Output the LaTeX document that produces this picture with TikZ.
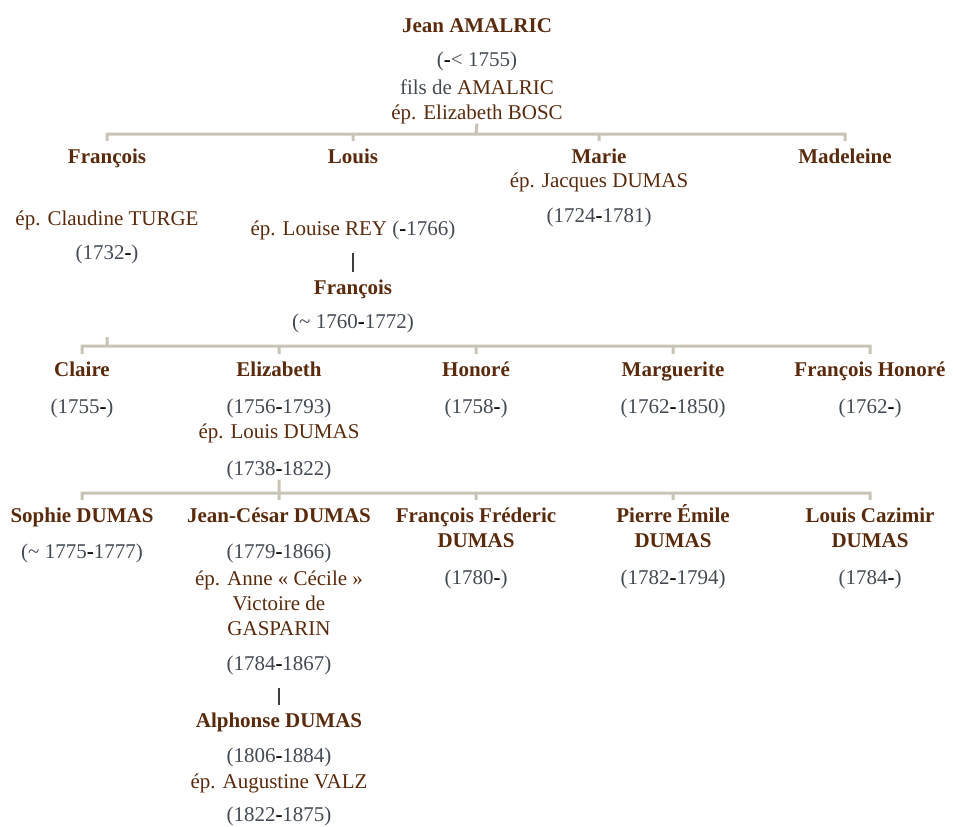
\documentclass[tikz,border=0pt]{standalone}
\usepackage{fontspec}
\setmainfont{Liberation Serif}
\usepackage{xcolor}
\usepackage{tikz}
\usetikzlibrary{positioning}

\definecolor{nombrun}{HTML}{5A2A0C}
\definecolor{dategris}{HTML}{434A54}
\definecolor{traitbeige}{HTML}{C8C3B4}
\definecolor{traitnoir}{HTML}{3C3C3C}
\newcommand{\tiret}{{\color{black}\bfseries -}}

\begin{document}
\begin{tikzpicture}[x=1pt, y=-1pt, font=\fontsize{21}{25}\selectfont,
	NameStyle/.style = {anchor=base, font=\fontsize{21}{25}\selectfont\bfseries, text=nombrun, text height=14pt, text depth=4pt, inner sep=8pt},
	DateStyle/.style = {anchor=base, text=dategris, inner sep=0pt},
	SpouseStyle/.style = {anchor=base, text=nombrun, inner sep=0pt},
	BarStyle/.style = {draw=traitbeige, line width=3pt},
	LinkStyle/.style = {draw=traitnoir, line width=2.5pt, shorten <=13pt}]
	\useasboundingbox (0,0) rectangle (953,827);

	\node[NameStyle] (jean) at (477,32) {Jean AMALRIC};
	\node[DateStyle] (jeand) at (477,66) {(\tiret< 1755)};
	\node[DateStyle] (jeanfils) at (477,94) {fils de \textcolor{nombrun}{AMALRIC}};
	\node[SpouseStyle] (jeansp) at (477,119) {ép. Elizabeth BOSC};

	\node[NameStyle] (fr1) at (107,163) {François};
	\node[SpouseStyle] (fr1sp) at (107,225) {ép. Claudine TURGE};
	\node[DateStyle] (fr1d) at (107,259) {(1732\tiret)};

	\node[NameStyle] (lo1) at (353,163) {Louis};
	\node[SpouseStyle] (lo1sp) at (353,235) {ép. Louise REY \textcolor{dategris}{(\tiret1766)}};
	\node[NameStyle] (lo1fils) at (353,294) {François};
	\node[DateStyle] (lo1filsd) at (353,328) {(\textasciitilde\ 1760\tiret1772)};

	\node[NameStyle] (ma1) at (599,163) {Marie};
	\node[SpouseStyle] (ma1sp) at (599,187) {ép. Jacques DUMAS};
	\node[DateStyle] (ma1d) at (599,222) {(1724\tiret1781)};

	\node[NameStyle] (md1) at (845,163) {Madeleine};

	\node[NameStyle] (cl2) at (82,376) {Claire};
	\node[DateStyle] (cl2d) at (82,413) {(1755\tiret)};

	\node[NameStyle] (el2) at (279,376) {Elizabeth};
	\node[DateStyle] (el2d) at (279,413) {(1756\tiret1793)};
	\node[SpouseStyle] (el2sp) at (279,438) {ép. Louis DUMAS};
	\node[DateStyle] (el2spd) at (279,475) {(1738\tiret1822)};

	\node[NameStyle] (ho2) at (476,376) {Honoré};
	\node[DateStyle] (ho2d) at (476,413) {(1758\tiret)};

	\node[NameStyle] (mg2) at (673,376) {Marguerite};
	\node[DateStyle] (mg2d) at (673,413) {(1762\tiret1850)};

	\node[NameStyle] (fh2) at (870,376) {François Honoré};
	\node[DateStyle] (fh2d) at (870,413) {(1762\tiret)};

	\node[NameStyle] (so3) at (82,522) {Sophie DUMAS};
	\node[DateStyle] (so3d) at (82,558) {(\textasciitilde\ 1775\tiret1777)};

	\node[NameStyle] (jc3) at (279,522) {Jean-César DUMAS};
	\node[DateStyle] (jc3d) at (279,558) {(1779\tiret1866)};
	\node[SpouseStyle] (jc3sp) at (279,585) {ép. Anne « Cécile »};
	\node[SpouseStyle] (jc3spb) at (279,610) {Victoire de};
	\node[SpouseStyle] (jc3spc) at (279,635) {GASPARIN};
	\node[DateStyle] (jc3spd) at (279,670) {(1784\tiret1867)};
	\node[NameStyle] (alph) at (279,727) {Alphonse DUMAS};
	\node[DateStyle] (alphd) at (279,762) {(1806\tiret1884)};
	\node[SpouseStyle] (alphsp) at (279,788) {ép. Augustine VALZ};
	\node[DateStyle] (alphspd) at (279,821) {(1822\tiret1875)};

	\node[NameStyle] (ff3) at (476,522) {François Fréderic};
	\node[NameStyle] (ff3b) at (476,547) {DUMAS};
	\node[DateStyle] (ff3d) at (476,584) {(1780\tiret)};

	\node[NameStyle] (pe3) at (673,522) {Pierre Émile};
	\node[NameStyle] (pe3b) at (673,547) {DUMAS};
	\node[DateStyle] (pe3d) at (673,584) {(1782\tiret1794)};

	\node[NameStyle] (lc3) at (870,522) {Louis Cazimir};
	\node[NameStyle] (lc3b) at (870,547) {DUMAS};
	\node[DateStyle] (lc3d) at (870,584) {(1784\tiret)};

	\coordinate (fam0) at (476,134);
	\coordinate (fam1top) at (107,337);
	\coordinate (fam1) at (107,346);
	\coordinate (fam2) at (279,493);

	\path[BarStyle]
		(jeansp.south) -- (fam0)
		(fr1.north) |- (fam0) -| (md1.north)
		(fam0 -| lo1.north) -- (lo1.north)
		(fam0 -| ma1.north) -- (ma1.north)
		(fam1top) -- (fam1)
		(cl2.north) |- (fam1) -| (fh2.north)
		(fam1 -| el2.north) -- (el2.north)
		(fam1 -| ho2.north) -- (ho2.north)
		(fam1 -| mg2.north) -- (mg2.north)
		(el2spd.south) -- (fam2)
		(so3.north) |- (fam2) -| (lc3.north)
		(fam2 -| jc3.north) -- (jc3.north)
		(fam2 -| ff3.north) -- (ff3.north)
		(fam2 -| pe3.north) -- (pe3.north)
	;

	\draw[LinkStyle] (lo1sp.south) -- (lo1fils.north);
	\draw[LinkStyle] (jc3spd.south) -- (alph.north);
\end{tikzpicture}
\end{document}
